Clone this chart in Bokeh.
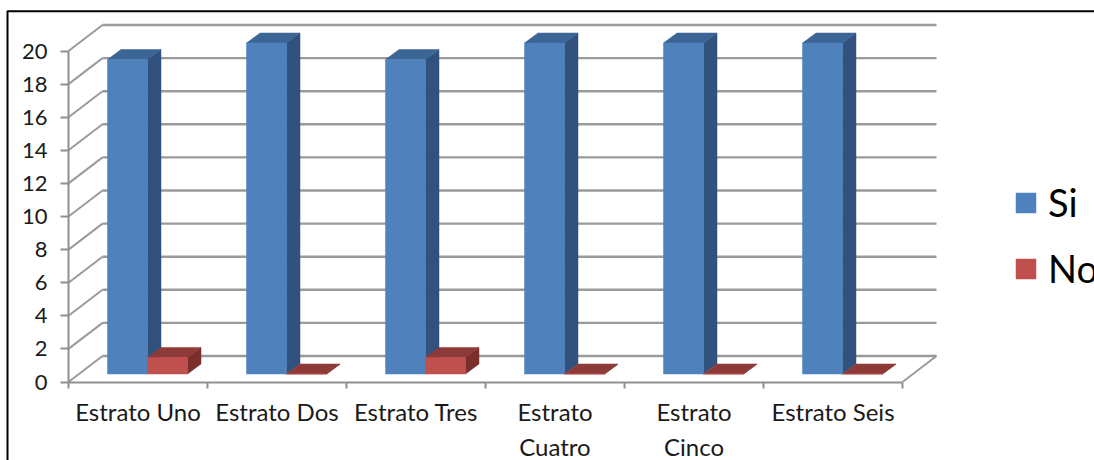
from bokeh.plotting import figure
from bokeh.embed import file_html
from bokeh.resources import INLINE
from bokeh.models import LinearAxis, FixedTicker, Range1d, Legend, LegendItem

categories = ["Estrato Uno", "Estrato Dos", "Estrato Tres", "Estrato\nCuatro", "Estrato\nCinco", "Estrato Seis"]
si_values = [19, 20, 19, 20, 20, 20]
no_values = [1, 0, 1, 0, 0, 0]
y_ticks = list(range(0, 21, 2))
series_names = ["Si", "No"]

# pixel scale of the projected chart (page pixels)
PX_X0, PX_Y0 = 68.0, 381.5
PX_PER_CAT, PX_PER_VAL = 139.0, 16.55
W, H = 1094, 460
x_range = Range1d(-PX_X0 / PX_PER_CAT, (W - PX_X0) / PX_PER_CAT)
y_range = Range1d((PX_Y0 - H) / PX_PER_VAL, PX_Y0 / PX_PER_VAL)

p = figure(width=W, height=H, x_range=x_range, y_range=y_range, output_backend="svg",
           toolbar_location=None, min_border=0, x_axis_location=None, y_axis_location=None,
           background_fill_color="white", border_fill_color="white")
p.outline_line_color = None
p.grid.visible = False

WALL_DX, WALL_DY = 34 / PX_PER_CAT, 26 / PX_PER_VAL
BAR_SHIFT_X, BAR_SHIFT_Y = 10.5 / PX_PER_CAT, 8 / PX_PER_VAL
BAR_DX, BAR_DY = 13.5 / PX_PER_CAT, 10 / PX_PER_VAL
BAR_W = 40 / PX_PER_CAT
GROUP_START = 28.5 / PX_PER_CAT
n = len(categories)
GRID = "#8f8f8f"

# walls
p.multi_line([[WALL_DX, n + WALL_DX] for v in y_ticks],
             [[v + WALL_DY, v + WALL_DY] for v in y_ticks], line_color=GRID, line_width=2.4, line_alpha=0.9)
p.multi_line([[0, WALL_DX] for v in y_ticks],
             [[v, v + WALL_DY] for v in y_ticks], line_color=GRID, line_width=2, line_alpha=0.9)
p.line([n, n + WALL_DX], [0, WALL_DY], line_color=GRID, line_width=2, line_alpha=0.9)


def faces(values, offset):
    front, side, top = ([], []), ([], []), ([], [])
    for i, v in enumerate(values):
        x0 = i + GROUP_START + offset * BAR_W + BAR_SHIFT_X
        x1 = x0 + BAR_W
        y0 = BAR_SHIFT_Y
        y1 = v + BAR_SHIFT_Y
        front[0].append([x0, x1, x1, x0]); front[1].append([y0, y0, y1, y1])
        side[0].append([x1, x1 + BAR_DX, x1 + BAR_DX, x1]); side[1].append([y0, y0 + BAR_DY, y1 + BAR_DY, y1])
        top[0].append([x0, x1, x1 + BAR_DX, x0 + BAR_DX]); top[1].append([y1, y1, y1 + BAR_DY, y1 + BAR_DY])
    return front, side, top


def draw(values, offset, c_front, c_side, c_top):
    front, side, top = faces(values, offset)
    p.patches(side[0], side[1], fill_color=c_side, line_color=c_side, line_width=0.5)
    p.patches(top[0], top[1], fill_color=c_top, line_color=c_top, line_width=0.5)
    return p.patches(front[0], front[1], fill_color=c_front, line_color=c_front, line_width=0.5)


r_si = draw(si_values, 0, "#4f81bd", "#31527d", "#3b6595")
r_no = draw(no_values, 1, "#c0504d", "#7a2f2d", "#8e3a38")

# frame line of the pasted picture
bx = (7 - PX_X0) / PX_PER_CAT
by = (PX_Y0 - 10.8) / PX_PER_VAL
p.line([bx, bx, x_range.end], [y_range.start, by, by], line_color="black", line_width=2)

FONT = "Lato"
y_axis = LinearAxis(fixed_location=0, ticker=FixedTicker(ticks=y_ticks), bounds=(0, 20))
y_axis.axis_line_color = GRID
y_axis.axis_line_width = 2
y_axis.major_tick_line_color = GRID
y_axis.major_tick_line_width = 2
y_axis.major_tick_in = 0
y_axis.major_tick_out = 8
y_axis.minor_tick_line_color = None
y_axis.major_label_text_font = FONT
y_axis.major_label_text_font_size = "22px"
y_axis.major_label_text_color = "#1a1a1a"
y_axis.major_label_standoff = 13
p.add_layout(y_axis, "left")

centers = [i + 0.5 for i in range(n)]
x_axis = LinearAxis(fixed_location=0, bounds=(0, n),
                    ticker=FixedTicker(ticks=centers, minor_ticks=list(range(n + 1))))
x_axis.major_label_overrides = {c: categories[i] for i, c in enumerate(centers)}
x_axis.axis_line_color = GRID
x_axis.axis_line_width = 2
x_axis.major_tick_line_color = None
x_axis.major_tick_in = 0
x_axis.major_tick_out = 0
x_axis.minor_tick_line_color = GRID
x_axis.minor_tick_line_width = 2
x_axis.minor_tick_in = 0
x_axis.minor_tick_out = 6
x_axis.major_label_text_font = FONT
x_axis.major_label_text_font_size = "24px"
x_axis.major_label_text_color = "#1a1a1a"
x_axis.major_label_standoff = 9
p.add_layout(x_axis, "below")

legend = Legend(items=[LegendItem(label=series_names[0], renderers=[r_si]),
                       LegendItem(label=series_names[1], renderers=[r_no])],
                location=(1013, 460 - 183 - 108), glyph_width=25, glyph_height=25,
                label_standoff=10, spacing=20, padding=0, margin=0,
                border_line_color=None, background_fill_alpha=0,
                label_text_font=FONT, label_text_font_size="38px", label_text_color="black")
p.add_layout(legend)

open("out.html", "w").write(file_html(p, INLINE))
